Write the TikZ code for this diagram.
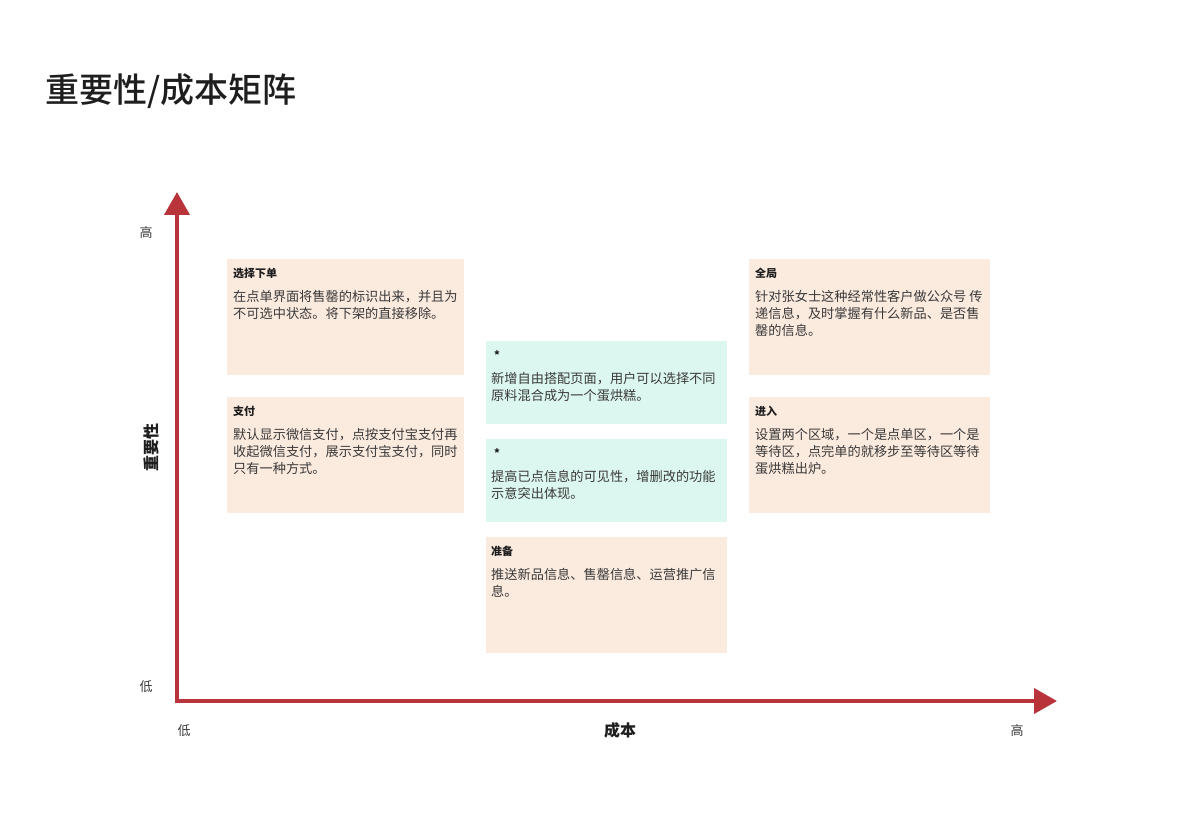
\documentclass[tikz,border=0pt]{standalone}
\usepackage{fontspec}
\setmainfont{Noto Sans CJK SC}
\newfontfamily\titlefont{Noto Sans CJK SC}[UprightFont=* Medium]
\usetikzlibrary{arrows.meta}
\definecolor{peach}{HTML}{FBEADE}
\definecolor{mint}{HTML}{DCF7EF}
\definecolor{axisred}{HTML}{B8343A}
\definecolor{bodytext}{HTML}{3A3A3A}
\definecolor{headtext}{HTML}{1E1E1E}
\begin{document}
\begin{tikzpicture}[x=1pt,y=-1pt,
  head/.style={anchor=west,font=\fontsize{11}{13}\selectfont\bfseries,text=headtext,inner sep=0pt},
  body/.style={anchor=north west,font=\fontsize{13.2}{17}\selectfont,text=bodytext,align=left,inner sep=0pt},
  axis/.style={draw=axisred,line width=4pt,-{Triangle[width=25pt,length=23pt]}},
  ticklab/.style={font=\fontsize{13}{15}\selectfont,text=bodytext},
  axlab/.style={font=\fontsize{16}{18}\selectfont\bfseries,text=headtext}
]
\useasboundingbox (0,0) rectangle (1200,834);
\node[anchor=west,font=\titlefont\fontsize{34}{36}\selectfont,text=headtext,inner sep=0pt] (title) at (45,91) {重要性/成本矩阵};

% boxes
\fill[peach] (227,259) rectangle (464,375);
\node[head] (h1) at (233,273) {选择下单};
\node[body] (b1) at (233,290) {在点单界面将售罄的标识出来，并且为\\不可选中状态。将下架的直接移除。};

\fill[peach] (227,397) rectangle (464,513);
\node[head] (h2) at (233,411) {支付};
\node[body] (b2) at (233,428) {默认显示微信支付，点按支付宝支付再\\收起微信支付，展示支付宝支付，同时\\只有一种方式。};

\fill[mint] (486,341) rectangle (727,424);
\node[head] (h3) at (494,355) {*};
\node[body] (b3) at (491,372) {新增自由搭配页面，用户可以选择不同\\原料混合成为一个蛋烘糕。};

\fill[mint] (486,439) rectangle (727,522);
\node[head] (h4) at (494,453) {*};
\node[body] (b4) at (491,470) {提高已点信息的可见性，增删改的功能\\示意突出体现。};

\fill[peach] (486,537) rectangle (727,653);
\node[head] (h5) at (491,551) {准备};
\node[body] (b5) at (491,568) {推送新品信息、售罄信息、运营推广信\\息。};

\fill[peach] (749,259) rectangle (990,375);
\node[head] (h6) at (755,273) {全局};
\node[body] (b6) at (755,290) {针对张女士这种经常性客户做公众号 传\\递信息，及时掌握有什么新品、是否售\\罄的信息。};

\fill[peach] (749,397) rectangle (990,513);
\node[head] (h7) at (755,411) {进入};
\node[body] (b7) at (755,428) {设置两个区域，一个是点单区，一个是\\等待区，点完单的就移步至等待区等待\\蛋烘糕出炉。};

% axes
\coordinate (o) at (177,701);
\coordinate (ytop) at (177,192);
\coordinate (xend) at (1057,701);
\draw[axis] ([yshift=2pt]o) -- (ytop);
\draw[axis] ([xshift=-2pt]o) -- (xend);

\node[ticklab] (yhi) at (146,233) {高};
\node[ticklab] (ylo) at (146,687) {低};
\node[ticklab] (xlo) at (184,731) {低};
\node[ticklab] (xhi) at (1017,731) {高};
\node[axlab] (xl) at (620,730) {成本};
\node[axlab,rotate=90] (yl) at (151,447) {重要性};
\end{tikzpicture}
\end{document}
